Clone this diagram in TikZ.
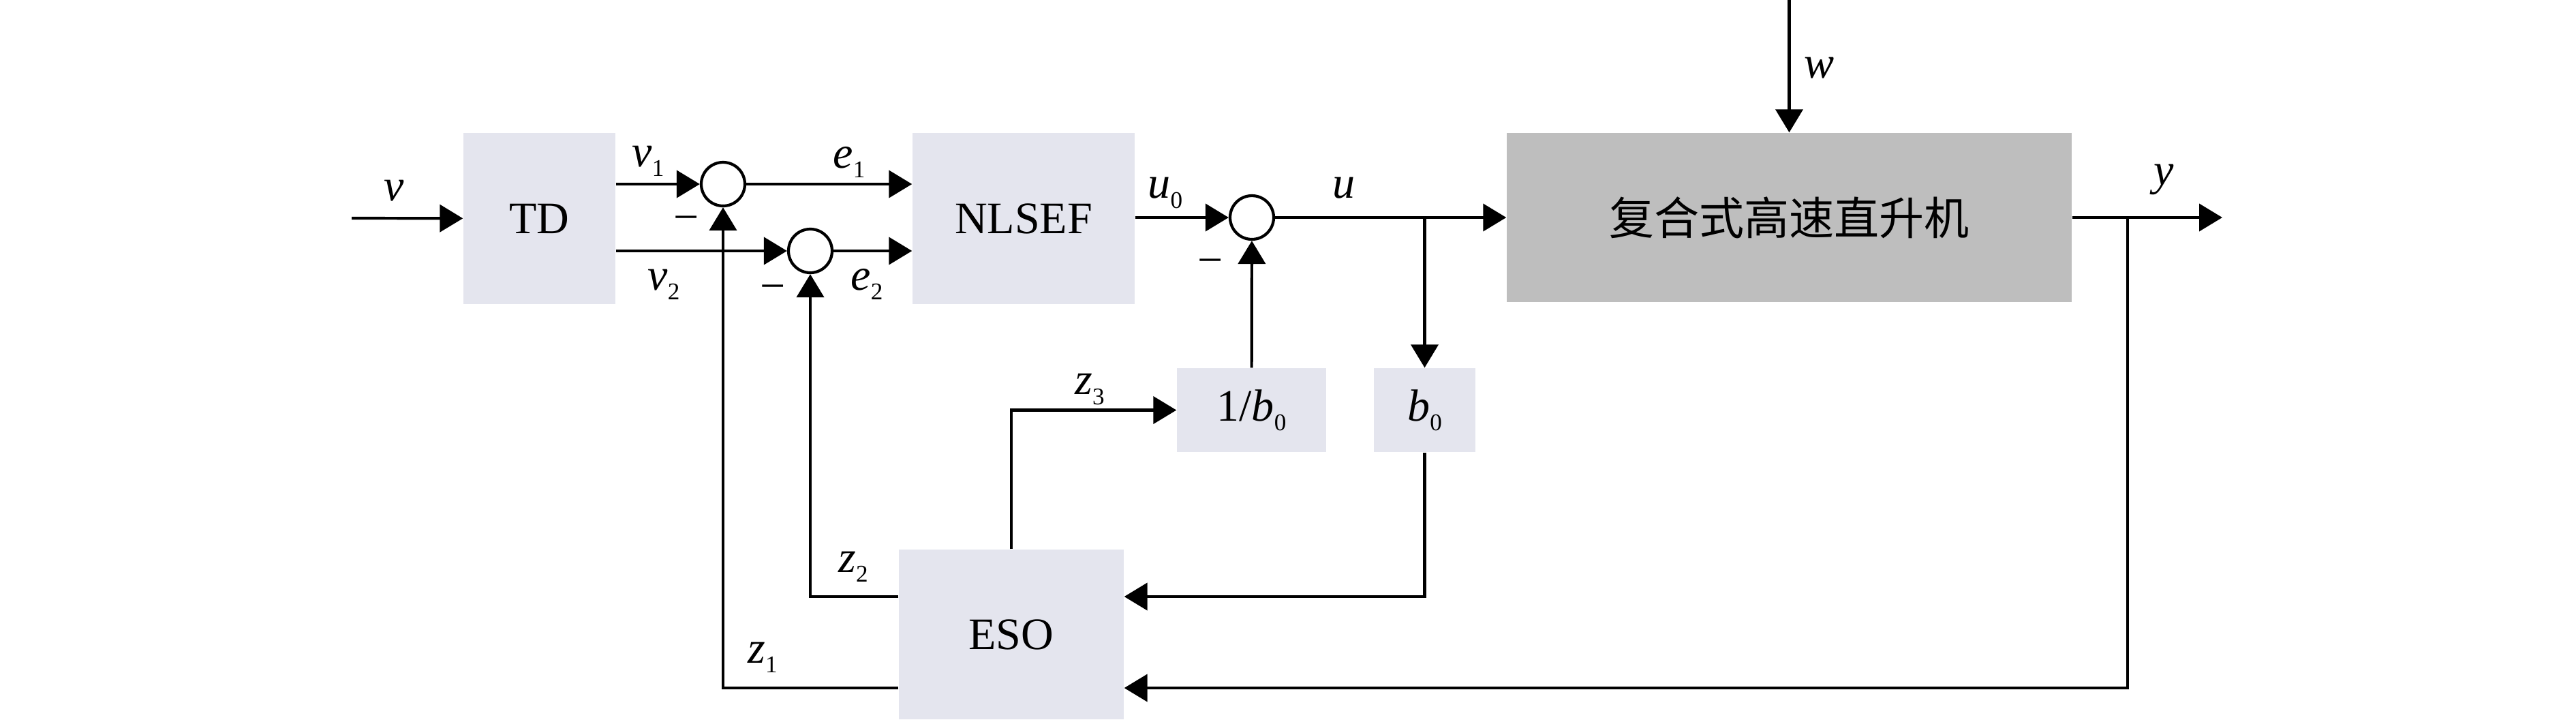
\documentclass[tikz,border=0pt]{standalone}
\usepackage{fontspec}
\setmainfont{Liberation Serif}
\newfontfamily\cjk{Noto Sans CJK SC}
\usepackage{xcolor}
\usetikzlibrary{arrows.meta}
\definecolor{blockgray}{HTML}{E4E5EE}
\definecolor{plantgray}{HTML}{BEBEBE}
\newcommand{\sig}[2]{\textit{#1}\raisebox{-4pt}{\fontsize{10}{11}\selectfont #2}}

\begin{document}
\begin{tikzpicture}[font=\fontsize{18.8}{22}\selectfont,
    blk/.style={fill=blockgray, inner sep=0pt},
    sumc/.style={circle, draw, line width=1.2pt, minimum size=0.64cm, inner sep=0pt},
    flow/.style={line width=1.2pt, -{Triangle[length=0.34cm,width=0.4cm]}}]
    \useasboundingbox (0,0) rectangle (37.8,-10.55);

    % Blocks
    \node[blk, minimum width=2.23cm, minimum height=2.51cm] (TD) at (7.915,-3.205) {TD};
    \node[blk, minimum width=3.26cm, minimum height=2.51cm] (NL) at (15.02,-3.205) {NLSEF};
    \node[blk, fill=plantgray, minimum width=8.29cm, minimum height=2.48cm] (P) at (26.255,-3.19) {\cjk 复合式高速直升机};
    \node[blk, minimum width=2.19cm, minimum height=1.23cm] (IB) at (18.365,-6.015) {1/\sig{b}{0}};
    \node[blk, minimum width=1.49cm, minimum height=1.23cm] (B) at (20.905,-6.015) {\sig{b}{0}};
    \node[blk, minimum width=3.30cm, minimum height=2.49cm] (ESO) at (14.84,-9.305) {ESO};

    % Summing points
    \node[sumc] (S1) at (10.61,-2.70) {};
    \node[sumc] (S2) at (11.89,-3.68) {};
    \node[sumc] (S3) at (18.37,-3.19) {};

    \coordinate (vin) at (5.16,-3.20);
    \coordinate (win) at (26.255,0);
    \coordinate (yout) at (32.61,-3.19);
    \coordinate (ubr) at (B |- S3);
    \coordinate (ybr) at (31.22,-3.19);

    % Forward path
    \draw[flow] (vin) -- (TD);
    \draw[flow] (TD.east |- S1) -- (S1);
    \draw[flow] (TD.east |- S2) -- (S2);
    \draw[flow] (S1) -- (NL.west |- S1);
    \draw[flow] (S2) -- (NL.west |- S2);
    \draw[flow] (NL.east |- S3) -- (S3);
    \draw[flow] (S3) -- (P);
    \draw[flow] (P) -- (yout);
    \draw[flow] (win) -- (P);

    % Observer loops
    \draw[flow] (ubr) -- (B);
    \draw[flow] (IB) -- (S3);
    \draw[flow] (ESO.north) |- (IB);
    \draw[flow] ([yshift=0.555cm]ESO.west) -| (S2);
    \draw[flow] ([yshift=-0.785cm]ESO.west) -| (S1);
    \draw[flow] (B) |- ([yshift=0.555cm]ESO.east);
    \draw[flow] (ybr) |- ([yshift=-0.785cm]ESO.east);

    % Signal labels
    \node (lv) at (5.78,-2.80) {\textit{v}};
    \node (lv1) at (9.51,-2.36) {\sig{v}{1}};
    \node (lv2) at (9.74,-4.17) {\sig{v}{2}};
    \node (le1) at (12.46,-2.38) {\sig{e}{1}};
    \node (le2) at (12.72,-4.17) {\sig{e}{2}};
    \node (lu0) at (17.10,-2.83) {\sig{u}{0}};
    \node (lu) at (19.72,-2.76) {\textit{u}};
    \node (lz3) at (15.99,-5.71) {\sig{z}{3}};
    \node (lz2) at (12.52,-8.31) {\sig{z}{2}};
    \node (lz1) at (11.19,-9.64) {\sig{z}{1}};
    \node (lw) at (26.70,-1.00) {\textit{w}};
    \node (ly) at (31.75,-2.63) {\textit{y}};
    \node (m1) at (10.07,-3.29) {−};
    \node (m2) at (11.34,-4.30) {−};
    \node (m3) at (17.76,-3.92) {−};
\end{tikzpicture}
\end{document}
